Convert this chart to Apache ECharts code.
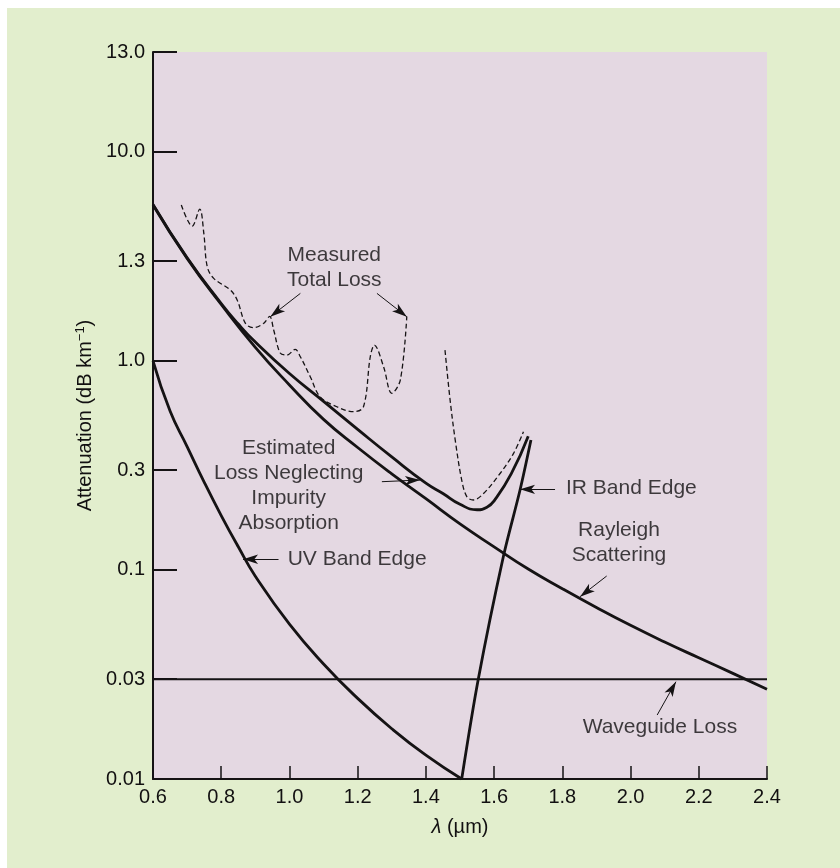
<!DOCTYPE html>
<html><head><meta charset="utf-8">
<script src="https://cdn.jsdelivr.net/npm/echarts@6/dist/echarts.min.js"></script>
<style>
html,body{margin:0;padding:0;background:#fff;}
#bg{position:absolute;left:7px;top:8px;width:833px;height:860px;background:#e2eecd;}
#chart{position:absolute;left:0;top:0;width:840px;height:868px;}
</style></head><body><div id="bg"></div><div id="chart"></div>
<script>
// ---- data (wavelength in µm, attenuation in dB/km) ----
const yTickValues = [0.01, 0.03, 0.1, 0.3, 1, 3, 10, 30];
const yTickLabels = ['0.01', '0.03', '0.1', '0.3', '1.0', '1.3', '10.0', '13.0'];

const rayleighLambda = [0.6, 0.7, 0.8, 0.9, 1.0, 1.1, 1.2, 1.3, 1.4, 1.5, 1.6, 1.7, 1.8, 1.9, 2.0, 2.1, 2.2, 2.3, 2.4];
const rayleighLoss   = [5.56, 3.09, 1.86, 1.16, 0.767, 0.525, 0.385, 0.288, 0.219, 0.166, 0.129, 0.101, 0.0813, 0.0661, 0.0543, 0.0452, 0.038, 0.032, 0.0269];

const estimatedLambda = [0.6, 0.7, 0.8, 0.85, 0.9, 1.0, 1.1, 1.2, 1.3, 1.4, 1.45, 1.5, 1.55, 1.58, 1.6, 1.65, 1.7];
const estimatedLoss   = [5.6, 3.11, 1.88, 1.5, 1.23, 0.87, 0.64, 0.47, 0.347, 0.26, 0.232, 0.206, 0.194, 0.2, 0.214, 0.288, 0.436];

const uvLambda = [0.6, 0.65, 0.7, 0.75, 0.8, 0.85, 0.9, 1.0, 1.1, 1.2, 1.3, 1.4, 1.505];
const uvLoss   = [1.0, 0.575, 0.389, 0.263, 0.182, 0.129, 0.0933, 0.055, 0.0355, 0.0243, 0.0174, 0.013, 0.01];

const irLambda = [1.505, 1.553, 1.627, 1.676, 1.708];
const irLoss   = [0.01, 0.0297, 0.1156, 0.241, 0.418];

const waveguideLambda = [0.6, 2.4];
const waveguideLoss   = [0.03, 0.03];

const measured1Lambda = [0.683, 0.715, 0.737, 0.749, 0.759, 0.778, 0.827, 0.847, 0.871, 0.895, 0.924, 0.942, 0.954, 0.973, 0.993, 1.017, 1.032, 1.061, 1.090, 1.139, 1.188, 1.217, 1.237, 1.249, 1.276, 1.300, 1.325, 1.344];
const measured1Loss   = [5.56, 4.41, 5.32, 4.07, 2.82, 2.48, 2.18, 1.95, 1.51, 1.44, 1.51, 1.63, 1.40, 1.09, 1.066, 1.135, 1.046, 0.84, 0.673, 0.603, 0.571, 0.603, 1.046, 1.19, 0.937, 0.699, 0.809, 1.63];

const measured2Lambda = [1.456, 1.471, 1.486, 1.505, 1.520, 1.539, 1.569, 1.618, 1.657, 1.686];
const measured2Loss   = [1.126, 0.649, 0.418, 0.269, 0.224, 0.216, 0.232, 0.29, 0.361, 0.458];

// ---- annotations (placed in data coordinates) ----
const noteTexts = ['Measured\nTotal Loss', 'Estimated\nLoss Neglecting\nImpurity\nAbsorption', 'UV Band Edge', 'IR Band Edge', 'Rayleigh\nScattering', 'Waveguide Loss'];
const noteAnchors = [[1.1315, 2.795], [0.9977, 0.2518], [0.9947, 0.1127], [1.8108, 0.2455], [1.966, 0.1345], [2.086, 0.01774]];
const noteAlign = ['center', 'center', 'left', 'left', 'center', 'center'];
const arrowTails = [[1.032, 2.102], [1.2565, 2.102], [1.271, 0.2642], [0.968, 0.1125], [1.7786, 0.2428], [1.930, 0.0935], [2.078, 0.02023]];
const arrowTips  = [[0.944, 1.626], [1.344, 1.626], [1.383, 0.2692], [0.864, 0.1125], [1.676, 0.2428], [1.852, 0.0745], [2.133, 0.0292]];

// ---- build ----
const L = v => Math.log10(v);
const pairs = (xs, ys) => xs.map((x, i) => [x, L(ys[i])]);
const INK = '#151314';
const TXT = '#121011';
const FONT = '"Liberation Sans", Arial, Helvetica, sans-serif';

const solid = (name, xs, ys, w, smooth) => ({
  type: 'line', name, data: pairs(xs, ys), smooth, showSymbol: false, symbol: 'none',
  lineStyle: { color: INK, width: w }, silent: true, z: 3
});

const chart = echarts.init(document.getElementById('chart'), null, { renderer: 'canvas' });
chart.setOption({
  animation: false,
  backgroundColor: 'transparent',
  textStyle: { fontFamily: FONT, color: TXT },
  grid: { left: 153, right: 73, top: 52, bottom: 89, show: true, backgroundColor: '#e4d8e2', borderWidth: 0, outerBoundsMode: 'none' },
  xAxis: {
    type: 'value', min: 0.6, max: 2.4, interval: 0.2,
    name: '{i|λ} (µm)', nameLocation: 'middle', nameGap: 38,
    nameTextStyle: { fontFamily: FONT, fontSize: 20, color: TXT, rich: { i: { fontStyle: 'italic', fontSize: 20, fontFamily: FONT, color: TXT } } },
    axisLine: { show: true, onZero: false, lineStyle: { color: INK, width: 2 } },
    axisTick: { show: true, inside: true, length: 13, lineStyle: { color: INK, width: 1.5 } },
    axisLabel: { fontSize: 20, color: TXT, fontFamily: FONT, margin: 8, formatter: v => v.toFixed(1) },
    splitLine: { show: false }
  },
  yAxis: {
    type: 'value', min: L(yTickValues[0]), max: L(yTickValues[yTickValues.length - 1]),
    name: 'Attenuation (dB km{sup|−1})', nameLocation: 'middle', nameGap: 48, nameRotate: 90,
    nameTextStyle: { fontFamily: FONT, fontSize: 20, color: TXT, rich: { sup: { fontSize: 13, fontFamily: FONT, color: TXT, verticalAlign: 'top', padding: [0, 0, 10, 0] } } },
    axisLine: { show: true, onZero: false, lineStyle: { color: INK, width: 2 } },
    axisTick: { show: true, inside: true, length: 24, customValues: yTickValues.map(L), lineStyle: { color: INK, width: 2 } },
    axisLabel: {
      fontSize: 20, color: TXT, fontFamily: FONT, margin: 8,
      customValues: yTickValues.map(L),
      formatter: v => { const i = yTickValues.findIndex(t => Math.abs(L(t) - v) < 1e-6); return i >= 0 ? yTickLabels[i] : ''; }
    },
    splitLine: { show: false }
  },
  series: [
    Object.assign(solid('Waveguide Loss', waveguideLambda, waveguideLoss, 1.8, false), {
      markLine: {
        silent: true, symbol: ['none', 'arrow'], symbolSize: [7, 15],
        label: { show: false }, emphasis: { disabled: true },
        lineStyle: { color: INK, width: 1, type: 'solid' },
        itemStyle: { color: INK },
        data: arrowTails.map((t, i) => [{ coord: [t[0], L(t[1])] }, { coord: [arrowTips[i][0], L(arrowTips[i][1])] }])
      }
    }),
    solid('Rayleigh Scattering', rayleighLambda, rayleighLoss, 2.8, true),
    solid('Estimated Loss', estimatedLambda, estimatedLoss, 2.8, true),
    solid('UV Band Edge', uvLambda, uvLoss, 2.8, true),
    solid('IR Band Edge', irLambda, irLoss, 2.8, 0.3),
    {
      type: 'line', name: 'Measured Total Loss (a)', data: pairs(measured1Lambda, measured1Loss), smooth: 0.35, showSymbol: false, symbol: 'none',
      lineStyle: { color: INK, width: 1.3, type: [5, 3] }, silent: true, z: 3
    },
    {
      type: 'line', name: 'Measured Total Loss (b)', data: pairs(measured2Lambda, measured2Loss), smooth: 0.35, showSymbol: false, symbol: 'none',
      lineStyle: { color: INK, width: 1.3, type: [5, 3] }, silent: true, z: 3
    },
    {
      type: 'scatter', name: 'notes', symbolSize: 0, silent: true, z: 5,
      data: noteTexts.map((t, i) => ({
        value: [noteAnchors[i][0], L(noteAnchors[i][1])],
        label: { show: true, position: 'inside', formatter: t, align: noteAlign[i], verticalAlign: 'middle',
          fontSize: 21, lineHeight: 25, color: TXT, fontFamily: FONT }
      }))
    }
  ]
});
</script></body></html>
